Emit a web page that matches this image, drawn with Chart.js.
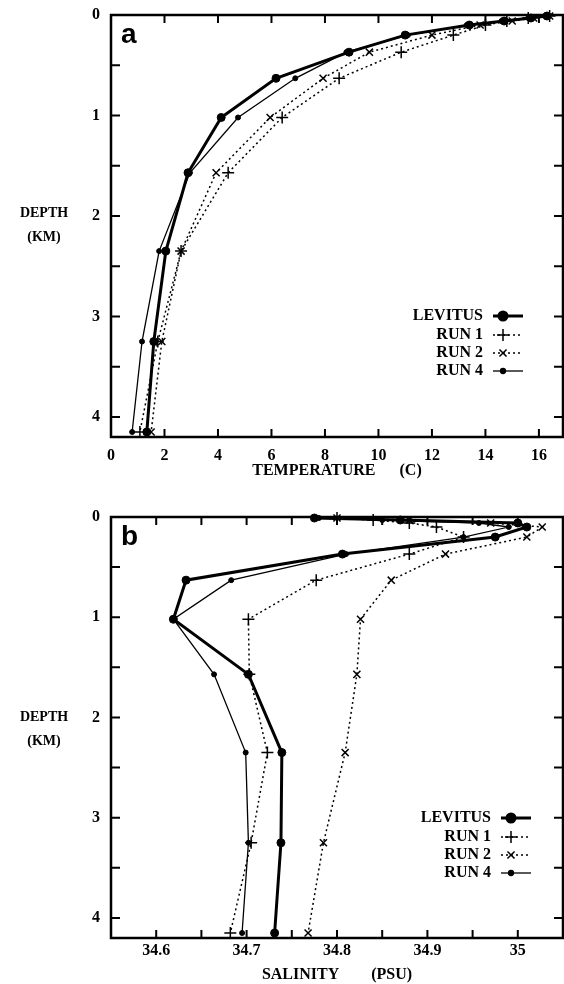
<!DOCTYPE html>
<html lang="en">
<head>
    <meta charset="UTF-8">
    <title>Temperature and salinity profiles</title>
    <script src="https://cdn.jsdelivr.net/npm/chart.js"></script>
    <style>
        body { margin: 0; background: #fff; }
        #wrap { position: relative; width: 564px; height: 984px; }
        canvas { position: absolute; left: 0; }
        .depth {
            position: absolute; left: 4px; width: 80px; text-align: center;
            font: bold 14px "Liberation Serif", serif; line-height: 24px; color: #000;
        }
    </style>
</head>
<body>
<div id="wrap">
    <canvas id="tempChart" width="564" height="490" style="top:0"></canvas>
    <canvas id="salChart" width="564" height="494" style="top:490px"></canvas>
    <div class="depth" style="top:201px">DEPTH<br>(KM)</div>
    <div class="depth" style="top:705px">DEPTH<br>(KM)</div>
</div>

<script>
    // depth levels (km) shared by every profile
    const depthKm = [0.01, 0.03, 0.06, 0.1, 0.2, 0.37, 0.63, 1.02, 1.57, 2.35, 3.25, 4.15];

    // temperature (C)
    const tempLevitus = [16.3, 15.7, 14.7, 13.4, 11.0, 8.9, 6.17, 4.12, 2.88, 2.05, 1.6, 1.34];
    const tempRun1    = [16.4, 15.6, 14.8, 14.0, 12.8, 10.85, 8.53, 6.4, 4.38, 2.62, 1.75, 1.08];
    const tempRun2    = [16.4, 15.8, 15.0, 13.8, 12.0, 9.66, 7.93, 5.95, 3.93, 2.62, 1.9, 1.5];
    const tempRun4    = [16.3, 15.6, 14.6, 13.3, 11.1, 8.8, 6.89, 4.75, 2.95, 1.8, 1.16, 0.79];

    // salinity (PSU)
    const salLevitus = [34.775, 34.87, 35.0, 35.01, 34.975, 34.806, 34.633, 34.619, 34.702, 34.739, 34.738, 34.731];
    const salRun1    = [34.80, 34.84, 34.88, 34.91, 34.94, 34.88, 34.777, 34.702, 34.703, 34.723, 34.705, 34.682];
    const salRun2    = [34.80, 34.88, 34.97, 35.027, 35.01, 34.92, 34.86, 34.826, 34.822, 34.809, 34.785, 34.768];
    const salRun4    = [34.78, 34.85, 34.957, 34.99, 34.94, 34.81, 34.683, 34.619, 34.664, 34.699, 34.702, 34.695];

    // axis ticks and labels
    const depthTicks  = [0, 0.5, 1, 1.5, 2, 2.5, 3, 3.5, 4];
    const depthLabels = [0, 1, 2, 3, 4];
    const tempTicks   = [0, 2, 4, 6, 8, 10, 12, 14, 16];
    const tempLabels  = [0, 2, 4, 6, 8, 10, 12, 14, 16];
    const salTicks    = [34.55, 34.6, 34.65, 34.7, 34.75, 34.8, 34.85, 34.9, 34.95, 35, 35.05];
    const salLabels   = [34.6, 34.7, 34.8, 34.9, 35];

    const seriesNames = ['LEVITUS', 'RUN 1', 'RUN 2', 'RUN 4'];

    Chart.defaults.font.family = '"Liberation Serif", "DejaVu Serif", serif';
    Chart.defaults.font.weight = 'bold';
    Chart.defaults.color = '#000';

    const styles = [
        { borderWidth: 3, borderDash: [], pointStyle: 'circle', pointRadius: 4, pointBorderWidth: 1 },
        { borderWidth: 1.5, borderDash: [2, 3], pointStyle: 'cross', pointRadius: 6, pointBorderWidth: 1.5 },
        { borderWidth: 1.5, borderDash: [2, 3], pointStyle: 'crossRot', pointRadius: 5, pointBorderWidth: 1.5 },
        { borderWidth: 1.3, borderDash: [], pointStyle: 'circle', pointRadius: 2.5, pointBorderWidth: 1 }
    ];

    function profile(values) {
        return values.map((v, i) => ({ x: v, y: depthKm[i] }));
    }

    function hasValue(list, v) {
        return list.some(l => Math.abs(l - v) < 1e-6);
    }

    // frame, inward ticks, panel letter and legend
    const framePlugin = {
        id: 'frame',
        afterDraw(chart, args, opts) {
            const { ctx, chartArea: a, scales: { x, y } } = chart;
            ctx.save();
            ctx.strokeStyle = '#000';
            ctx.fillStyle = '#000';
            ctx.setLineDash([]);
            ctx.lineWidth = 2.5;
            ctx.strokeRect(a.left, a.top, a.right - a.left, a.bottom - a.top);

            ctx.lineWidth = 2;
            ctx.beginPath();
            x.ticks.forEach(t => {
                const px = x.getPixelForValue(t.value);
                ctx.moveTo(px, a.bottom); ctx.lineTo(px, a.bottom - 8);
                ctx.moveTo(px, a.top); ctx.lineTo(px, a.top + 8);
            });
            y.ticks.forEach(t => {
                const py = y.getPixelForValue(t.value);
                ctx.moveTo(a.left, py); ctx.lineTo(a.left + 9, py);
                ctx.moveTo(a.right, py); ctx.lineTo(a.right - 9, py);
            });
            ctx.stroke();

            ctx.font = 'bold 28px "Liberation Sans", sans-serif';
            ctx.textAlign = 'left';
            ctx.textBaseline = 'alphabetic';
            ctx.fillText(opts.letter, a.left + 10, a.top + 28);

            // legend
            ctx.font = 'bold 16px "Liberation Serif", serif';
            ctx.textAlign = 'right';
            ctx.textBaseline = 'middle';
            const rowY = [301, 320, 338, 356];
            chart.data.datasets.forEach((ds, i) => {
                const ly = a.top + rowY[i];
                const tx = a.right - opts.textRight;
                ctx.fillText(ds.label, tx, ly);
                const x0 = tx + 10, x1 = tx + 40;
                ctx.lineWidth = ds.borderWidth;
                ctx.setLineDash(ds.borderDash);
                ctx.beginPath();
                ctx.moveTo(x0, ly); ctx.lineTo(x1, ly);
                ctx.stroke();
                ctx.setLineDash([]);
                Chart.helpers.drawPoint(ctx, {
                    pointStyle: ds.pointStyle, radius: ds.pointRadius,
                    rotation: 0, borderWidth: ds.pointBorderWidth
                }, x0 + 10, ly);
            });
            ctx.restore();
        }
    };

    function makeChart(canvasId, series, xOpts, letter, padTop, xHeight, tickPad, titlePad, textRight) {
        const datasets = series.map((vals, i) => Object.assign({
            label: seriesNames[i],
            data: profile(vals),
            borderColor: '#000',
            backgroundColor: '#000',
            pointBackgroundColor: '#000',
            pointBorderColor: '#000',
            showLine: true,
            fill: false,
            tension: 0,
            clip: false
        }, styles[i]));

        return new Chart(document.getElementById(canvasId), {
            type: 'scatter',
            data: { datasets: datasets },
            options: {
                responsive: false,
                animation: false,
                layout: { autoPadding: false, padding: { top: padTop, right: 1, left: 0, bottom: 0 } },
                plugins: {
                    legend: { display: false },
                    tooltip: { enabled: false },
                    frame: { letter: letter, textRight: textRight }
                },
                scales: {
                    x: {
                        type: 'linear',
                        min: xOpts.min,
                        max: xOpts.max,
                        afterBuildTicks: s => { s.ticks = xOpts.ticks.map(v => ({ value: v })); },
                        afterFit: s => { s.height = xHeight; s.paddingLeft = 0; s.paddingRight = 0; },
                        grid: { display: false, drawTicks: false },
                        border: { display: false },
                        ticks: {
                            padding: tickPad,
                            autoSkip: false,
                            maxRotation: 0,
                            font: { size: 16 },
                            callback: v => hasValue(xOpts.labels, v) ? String(+v.toFixed(2)) : ''
                        },
                        title: {
                            display: true,
                            text: xOpts.title,
                            font: { size: 16 },
                            padding: { top: 0, bottom: titlePad }
                        }
                    },
                    y: {
                        type: 'linear',
                        reverse: true,
                        min: 0,
                        max: 4.2,
                        afterBuildTicks: s => { s.ticks = depthTicks.map(v => ({ value: v })); },
                        afterFit: s => { s.width = 111; s.paddingTop = 0; s.paddingBottom = 0; },
                        grid: { display: false, drawTicks: false },
                        border: { display: false },
                        ticks: {
                            padding: 11,
                            autoSkip: false,
                            font: { size: 16 },
                            callback: v => hasValue(depthLabels, v) ? String(v) : ''
                        }
                    }
                }
            },
            plugins: [framePlugin]
        });
    }

    makeChart('tempChart', [tempLevitus, tempRun1, tempRun2, tempRun4],
        { min: 0, max: 16.9, ticks: tempTicks, labels: tempLabels, title: 'TEMPERATURE      (C)' },
        'a', 15, 53, 9, 10, 80);

    makeChart('salChart', [salLevitus, salRun1, salRun2, salRun4],
        { min: 34.55, max: 35.05, ticks: salTicks, labels: salLabels, title: 'SALINITY        (PSU)' },
        'b', 27, 46, 3, 0, 72);
</script>
</body>
</html>
